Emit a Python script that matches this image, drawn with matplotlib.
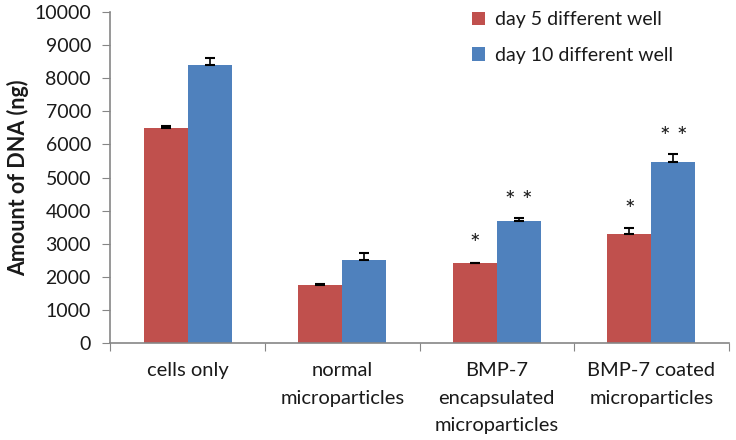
import matplotlib
matplotlib.use("Agg")
import matplotlib.pyplot as plt
import numpy as np

categories = ["cells only", "normal\nmicroparticles", "BMP-7\nencapsulated\nmicroparticles", "BMP-7 coated\nmicroparticles"]
series_names = ["day 5 different well", "day 10 different well"]
day5 = [6500, 1760, 2410, 3290]
day5_err = [60, 30, 20, 170]
day10 = [8400, 2510, 3700, 5480]
day10_err = [200, 200, 80, 220]
day5_marks = ["", "", "*", "*"]
day10_marks = ["", "", "* *", "* *"]
yticks = [0, 1000, 2000, 3000, 4000, 5000, 6000, 7000, 8000, 9000, 10000]

plt.rcParams['font.family'] = ['Lato', 'DejaVu Sans']

fig = plt.figure(figsize=(7.36, 4.40), dpi=100)
ax = fig.add_axes([0.150, 0.2205, 0.840, 0.752])

red = "#C0504D"
blue = "#4F81BD"
axc = "#868686"
txt = "#1a1a1a"
w = 0.285
x = np.arange(len(categories))

ax.bar(x - w/2, day5, w, color=red, label=series_names[0], zorder=2)
ax.bar(x + w/2, day10, w, color=blue, label=series_names[1], zorder=2)
ax.errorbar(x - w/2, day5, yerr=[np.zeros(4), day5_err], fmt="none", ecolor="black",
            elinewidth=1.2, capsize=3.5, capthick=1.5, zorder=3)
ax.errorbar(x + w/2, day10, yerr=[np.zeros(4), day10_err], fmt="none", ecolor="black",
            elinewidth=1.2, capsize=3.5, capthick=1.5, zorder=3)

for i in range(len(categories)):
    if day5_marks[i]:
        ax.annotate(day5_marks[i], (x[i] - w/2, day5[i] + day5_err[i]), xytext=(0, 13),
                    textcoords="offset points", ha="center", va="center", fontsize=18, color=txt)
    if day10_marks[i]:
        ax.annotate(day10_marks[i], (x[i] + w/2, day10[i] + day10_err[i]), xytext=(0, 12),
                    textcoords="offset points", ha="center", va="center", fontsize=18, color=txt)

ax.set_xlim(-0.5, len(categories) - 0.5)
ax.set_ylim(0, 10000)
ax.set_yticks(yticks)
ax.set_yticklabels([str(v) for v in yticks], fontsize=14, color=txt)
ax.set_xticks(np.arange(len(categories) + 1) - 0.5)
ax.set_xticklabels([])
ax.set_xticks(x, minor=True)
ax.set_xticklabels(categories, minor=True, fontsize=14.5, color=txt, linespacing=1.72)
ax.tick_params(axis="x", which="minor", length=0, pad=14)
ax.tick_params(axis="x", which="major", length=6, color=axc, direction="out")
ax.tick_params(axis="y", length=6, color=axc, direction="out", pad=8)
for s in ["top", "right"]:
    ax.spines[s].set_visible(False)
for s in ["left", "bottom"]:
    ax.spines[s].set_color(axc)
    ax.spines[s].set_linewidth(1.2)

ax.set_ylabel("Amount of DNA (ng)", fontsize=15.5, fontweight="bold", labelpad=4, color=txt)

leg = ax.legend(loc="upper left", bbox_to_anchor=(0.556, 1.055), frameon=False, fontsize=14,
                handlelength=0.7, handleheight=0.7, handletextpad=0.5, labelspacing=0.95)
for t in leg.get_texts():
    t.set_color(txt)

fig.savefig("out.png", dpi=100)
